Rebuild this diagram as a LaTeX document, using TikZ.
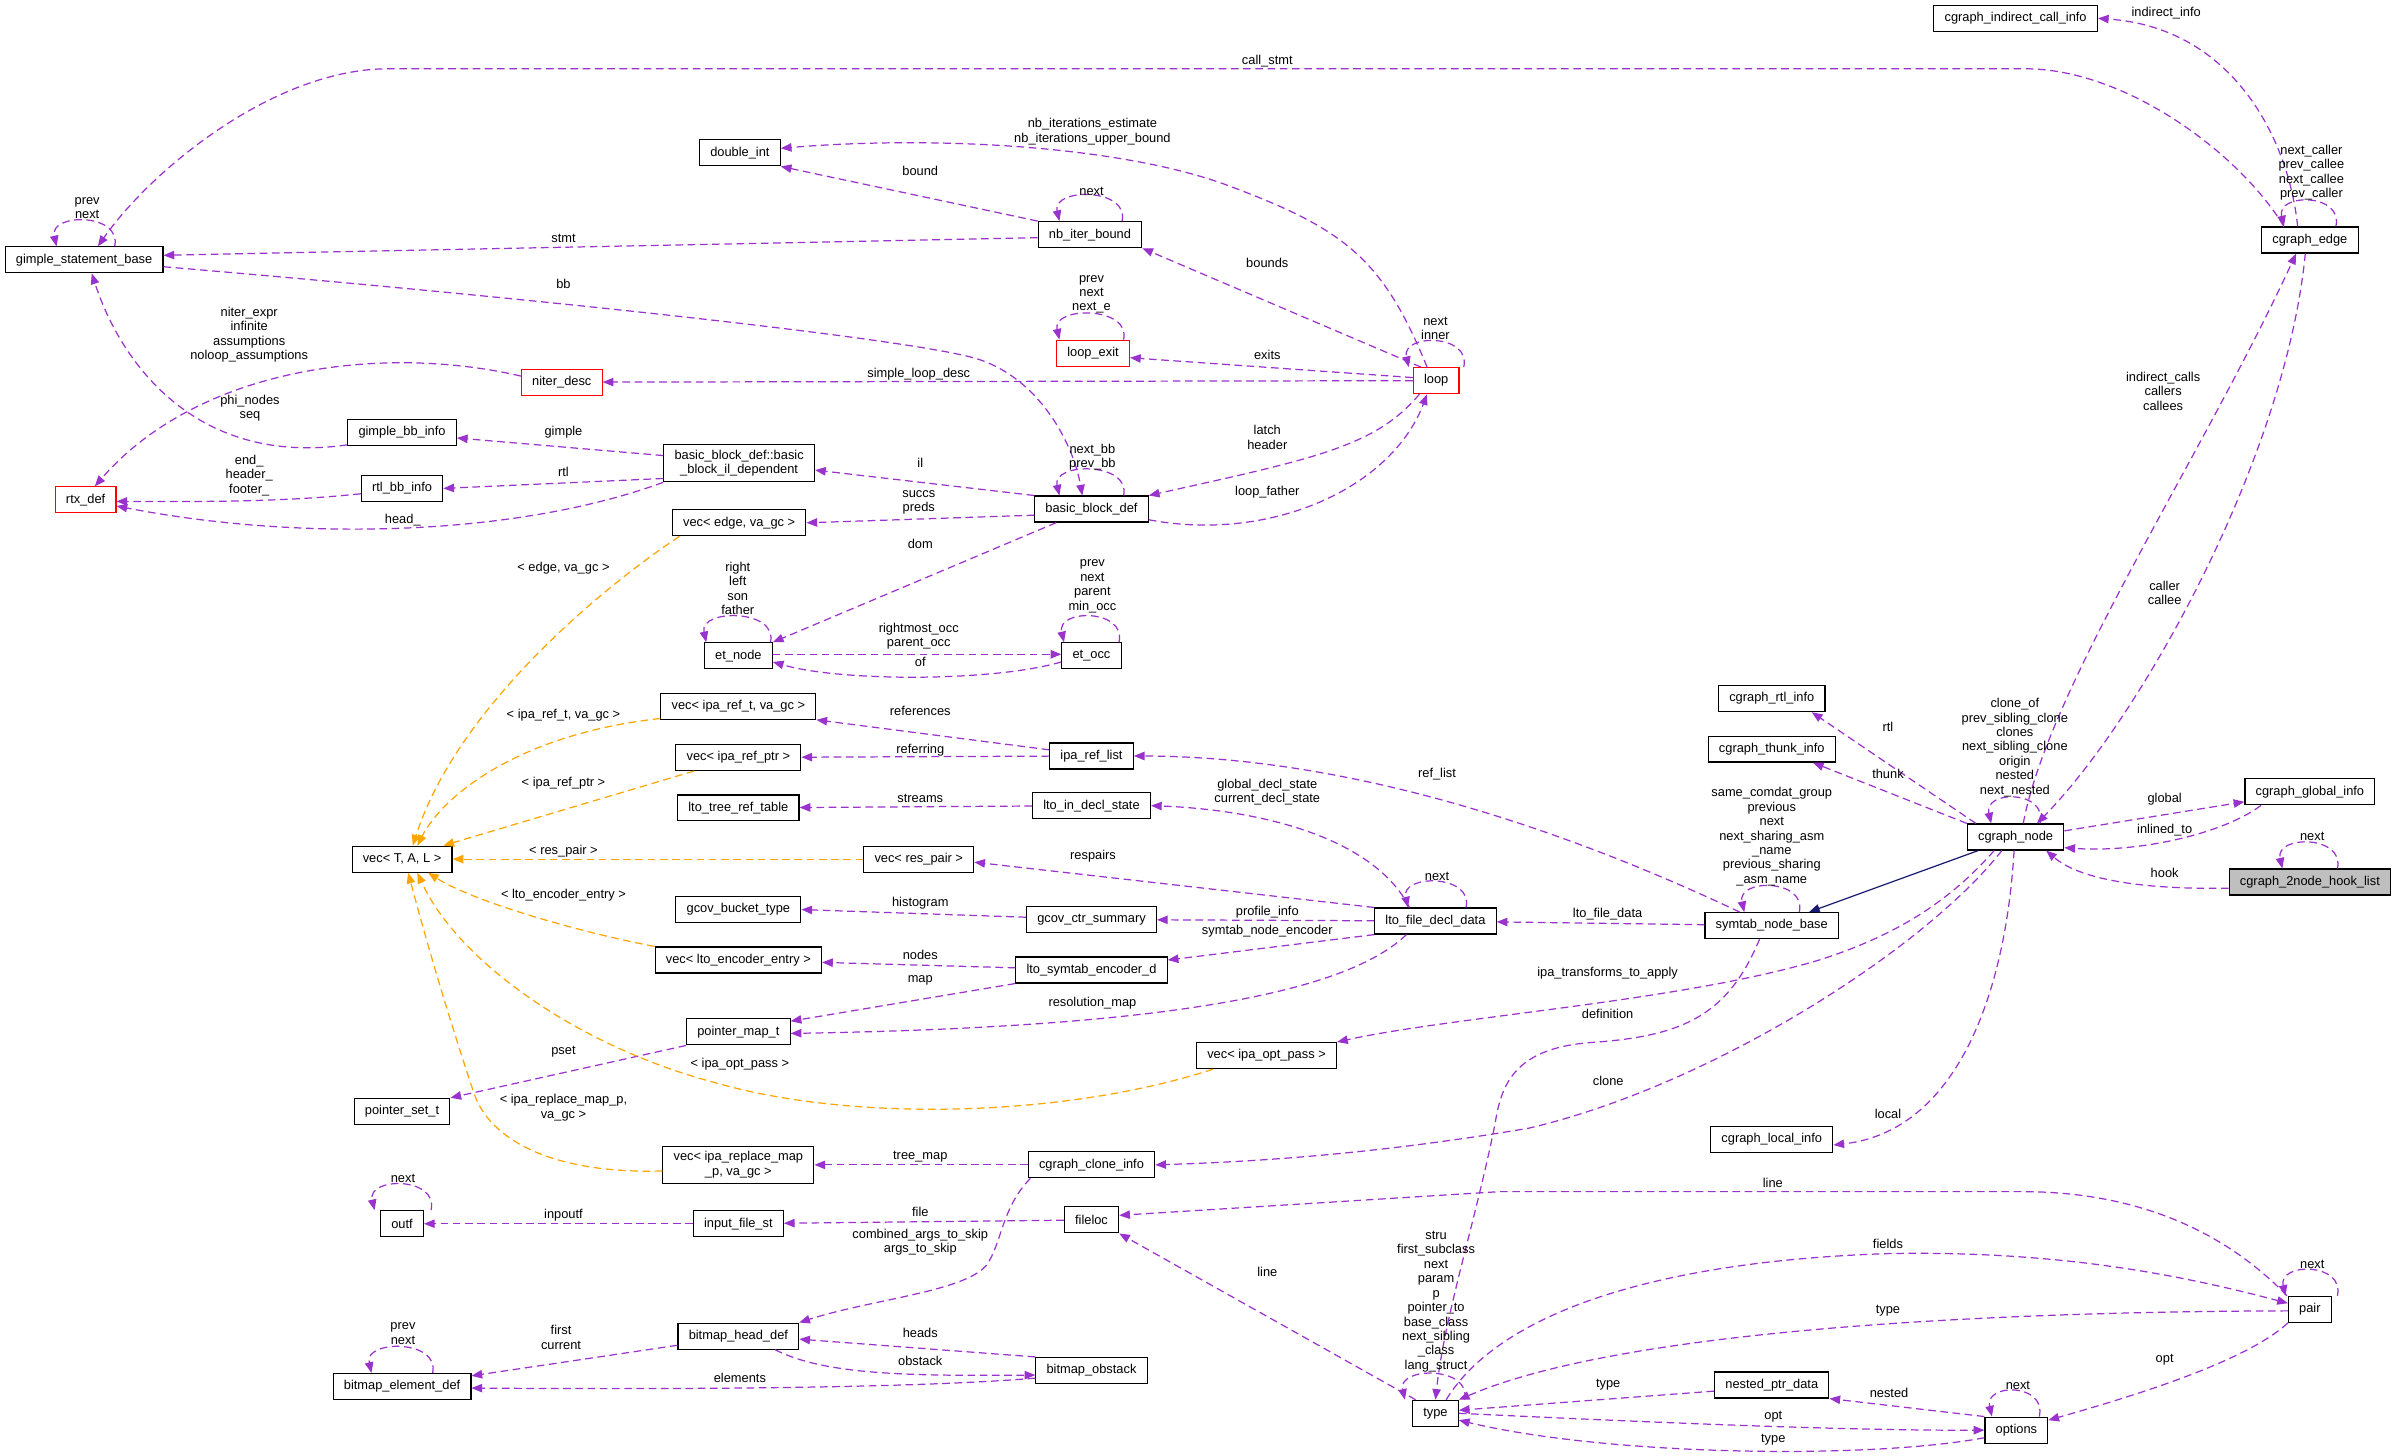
\documentclass[tikz,border=0pt]{standalone}
\usepackage{fontspec}
\setmainfont{Liberation Sans}
\usetikzlibrary{arrows.meta}
\definecolor{relcol}{HTML}{9A32CD}
\definecolor{tplcol}{HTML}{FFA500}
\definecolor{inhcol}{HTML}{191970}
\definecolor{hookfill}{HTML}{BFBFBF}
\newcommand{\dxfont}{\fontsize{8.4}{9.45}\selectfont}
\tikzset{
  cls/.style={draw=black, line width=0.75pt, fill=white, inner xsep=7pt, inner ysep=3.5pt, minimum height=17pt, align=center, font=\dxfont},
  trunc/.style={cls, draw=red},
  this/.style={cls, fill=hookfill},
  rel/.style={draw=relcol, line width=0.8pt, dash pattern=on 5pt off 3pt, -{Triangle[length=7pt,width=5.5pt]}},
  tpl/.style={rel, draw=tplcol},
  inh/.style={draw=inhcol, line width=0.8pt, -{Triangle[length=7pt,width=5.5pt]}},
  lab/.style={font=\dxfont, align=center, inner sep=0pt},
}
\begin{document}
\begin{tikzpicture}[x=1pt,y=-1pt]
    \fill[white] (0,0) rectangle (1568,952);
    \useasboundingbox (0,0) rectangle (1568,952);

    \node[cls] (cgicall) at (1318.5,12) {cgraph\_indirect\_call\_info};
    \node[cls] (dint) at (484,100) {double\_int};
    \node[cls] (gsb) at (55,170) {gimple\_statement\_base};
    \node[cls] (nbib) at (713,153.5) {nb\_iter\_bound};
    \node[cls] (cgedge) at (1511,157) {cgraph\_edge};
    \node[trunc] (lexit) at (715,231) {loop\_exit};
    \node[trunc] (niter) at (367.5,250) {niter\_desc};
    \node[trunc] (loop) at (939.5,249) {loop};
    \node[cls] (gbb) at (263,283) {gimple\_bb\_info};
    \node[cls] (bbil) at (483.5,303) {basic\_block\_def::basic\\\_block\_il\_dependent};
    \node[cls] (rtlbb) at (263,319.5) {rtl\_bb\_info};
    \node[trunc] (rtx) at (56,327) {rtx\_def};
    \node[cls] (bbd) at (714,333) {basic\_block\_def};
    \node[cls] (vedge) at (483.5,342) {vec< edge, va\_gc >};
    \node[cls] (etn) at (483,429) {et\_node};
    \node[cls] (eto) at (714,429) {et\_occ};
    \node[cls] (vreft) at (483,462) {vec< ipa\_ref\_t, va\_gc >};
    \node[cls] (vrefp) at (483,495.5) {vec< ipa\_ref\_ptr >};
    \node[cls] (irl) at (714,494.5) {ipa\_ref\_list};
    \node[cls] (ltrt) at (483,528.5) {lto\_tree\_ref\_table};
    \node[cls] (lids) at (714,527) {lto\_in\_decl\_state};
    \node[cls] (vtal) at (263,562) {vec< T, A, L >};
    \node[cls] (vres) at (601,562) {vec< res\_pair >};
    \node[cls] (gbt) at (483,595) {gcov\_bucket\_type};
    \node[cls] (gcs) at (714,601.5) {gcov\_ctr\_summary};
    \node[cls] (lfdd) at (939,602.5) {lto\_file\_decl\_data};
    \node[cls] (snb) at (1159,605.5) {symtab\_node\_base};
    \node[cls] (cgn) at (1318.5,547.5) {cgraph\_node};
    \node[cls] (cgrtl) at (1159,457) {cgraph\_rtl\_info};
    \node[cls] (cgthunk) at (1159,490) {cgraph\_thunk\_info};
    \node[cls] (cgglob) at (1511,518) {cgraph\_global\_info};
    \node[this] (hook) at (1511,577) {cgraph\_2node\_hook\_list};
    \node[cls] (venc) at (483,628) {vec< lto\_encoder\_entry >};
    \node[cls] (lsed) at (714,634.5) {lto\_symtab\_encoder\_d};
    \node[cls] (pmap) at (483,675) {pointer\_map\_t};
    \node[cls] (vopt) at (828.5,690.5) {vec< ipa\_opt\_pass >};
    \node[cls] (pset) at (263,727) {pointer\_set\_t};
    \node[cls] (vrmap) at (483,762) {vec< ipa\_replace\_map\\\_p, va\_gc >};
    \node[cls] (cgclone) at (714,762) {cgraph\_clone\_info};
    \node[cls] (cglocal) at (1159,745.5) {cgraph\_local\_info};
    \node[cls] (outf) at (263,800.5) {outf};
    \node[cls] (ifs) at (483,800.5) {input\_file\_st};
    \node[cls] (floc) at (714,798) {fileloc};
    \node[cls] (bhd) at (483,874) {bitmap\_head\_def};
    \node[cls] (bed) at (263,907) {bitmap\_element\_def};
    \node[cls] (bobs) at (714,896.5) {bitmap\_obstack};
    \node[cls] (type) at (939,924.5) {type};
    \node[cls] (pair) at (1511,856.5) {pair};
    \node[cls] (nptr) at (1159,906) {nested\_ptr\_data};
    \node[cls] (options) at (1319,935.5) {options};

    \draw[rel] ([xshift=-17pt]cgedge.north) .. controls (1465,100) and (1390,45) .. (1325,45) -- (254,45) .. controls (180,45) and (100,110) .. ([xshift=9pt]gsb.north);
    \node[lab] (lcall) at (829,40) {call\_stmt};
    \draw[rel] ([xshift=-8pt]cgedge.north) .. controls (1497,90) and (1460,18) .. (cgicall.east);
    \node[lab] (lindinfo) at (1417,8.5) {indirect\_info};
    \draw[rel] ([xshift=17pt]cgedge.north) .. controls +(5,-22) and +(-5,-22) .. ([xshift=-17pt]cgedge.north);
    \node[lab] (lcgedge) at (1512,113) {next\_caller\\prev\_callee\\next\_callee\\prev\_caller};

    \draw[rel] ([xshift=-6pt]loop.north) .. controls (905,170) and (880,150) .. (805,122) .. controls (740,97) and (620,88) .. ([yshift=3pt]dint.east);
    \node[lab] (lnbit) at (714.6,86) {nb\_iterations\_estimate\\nb\_iterations\_upper\_bound};
    \draw[rel] (nbib.north west) -- (dint.south east);
    \node[lab] (lbound) at (602,112) {bound};
    \draw[rel] ([xshift=21pt]nbib.north) .. controls +(5,-22) and +(-5,-22) .. ([xshift=-20pt]nbib.north);
    \node[lab] (lnbnext) at (714,125) {next};
    \draw[rel] ([yshift=-2pt]nbib.west) -- ([yshift=3pt]gsb.east);
    \node[lab] (lstmt) at (368.6,156) {stmt};
    \draw[rel] ([xshift=-10pt]loop.north) -- (nbib.south east);
    \node[lab] (lbounds) at (829,172) {bounds};

    \draw[rel] ([xshift=20pt]gsb.north) .. controls +(5,-22) and +(-5,-22) .. ([xshift=-18pt]gsb.north);
    \node[lab] (lgsbself) at (57,136) {prev\\next};
    \draw[rel] ([yshift=-4.5pt]gsb.east) .. controls (350,195) and (600,222) .. (640,235) .. controls (680,248) and (702,290) .. ([xshift=-6pt]bbd.north);
    \node[lab] (lbb) at (368.6,185.6) {bb};
    \draw[rel] ([yshift=-8pt]gbb.west) .. controls (130,305) and (80,240) .. ([xshift=5pt]gsb.south);
    \node[lab] (lphi) at (163.5,267) {phi\_nodes\\seq};
    \draw[rel] ([yshift=4pt]niter.west) .. controls (250,225) and (130,240) .. ([xshift=6pt]rtx.north);
    \node[lab] (lniter) at (163,219) {niter\_expr\\infinite\\assumptions\\noloop\_assumptions};

    \draw[rel] ([xshift=20pt]lexit.north) .. controls +(5,-22) and +(-5,-22) .. ([xshift=-22pt]lexit.north);
    \node[lab] (lexitself) at (714,192.5) {prev\\next\\next\_e};
    \draw[rel] ([xshift=18pt]loop.north) .. controls +(5,-22) and +(-5,-22) .. ([xshift=-18pt]loop.north);
    \node[lab] (lloopself) at (939,215) {next\\inner};
    \draw[rel] ([yshift=2pt]loop.west) -- ([yshift=-3pt]lexit.east);
    \node[lab] (lexits) at (829,232) {exits};
    \draw[rel] (loop) -- (niter);
    \node[lab] (lsld) at (601,245) {simple\_loop\_desc};

    \draw[rel] ([yshift=-7pt]bbd.east) .. controls (830,355) and (910,320) .. ([xshift=-6pt]loop.south);
    \node[lab] (lloopf) at (829,322) {loop\_father};
    \draw[rel] ([xshift=-11pt]loop.south) .. controls (900,292) and (860,300) .. (bbd.north east);
    \node[lab] (llatch) at (829,286) {latch\\header};
    \draw[rel] ([xshift=21pt]bbd.north) .. controls +(5,-22) and +(-5,-22) .. ([xshift=-21pt]bbd.north);
    \node[lab] (lbbself) at (714.6,299) {next\_bb\\prev\_bb};
    \draw[rel] (bbd.north west) -- ([yshift=-4.5pt]bbil.east);
    \node[lab] (lil) at (602,303) {il};
    \draw[rel] ([yshift=5pt]bbil.west) -- ([yshift=-3.5pt]gbb.east);
    \node[lab] (lgimple) at (368.6,283) {gimple};
    \draw[rel] ([yshift=-10pt]bbil.west) -- (rtlbb.east);
    \node[lab] (lrtl) at (368.6,309) {rtl};
    \draw[rel] ([yshift=-3.5pt]rtlbb.west) .. controls (180,329) and (120,328) .. ([yshift=-1pt]rtx.east);
    \node[lab] (lendh) at (163,311) {end\_\\header\_\\footer\_};
    \draw[rel] (bbil.south west) .. controls (340,350) and (200,355) .. ([yshift=-4pt]rtx.east);
    \node[lab] (lhead) at (263.5,340) {head\_};
    \draw[rel] ([yshift=-4pt]bbd.west) -- (vedge.east);
    \node[lab] (lsuccs) at (601,328.5) {succs\\preds};
    \draw[rel] ([xshift=-23pt]bbd.south) -- (etn.north east);
    \node[lab] (ldom) at (602,356) {dom};

    \draw[rel] ([xshift=21pt]etn.north) .. controls +(5,-22) and +(-5,-22) .. ([xshift=-21pt]etn.north);
    \node[lab] (letnself) at (482.6,385) {right\\left\\son\\father};
    \draw[rel] ([xshift=18pt]eto.north) .. controls +(5,-22) and +(-5,-22) .. ([xshift=-18pt]eto.north);
    \node[lab] (letoself) at (714.6,383.5) {prev\\next\\parent\\min\_occ};
    \draw[rel] ([yshift=1pt]etn.east) -- ([yshift=1pt]eto.west);
    \node[lab] (lrmocc) at (601,416) {rightmost\_occ\\parent\_occ};
    \draw[rel] ([yshift=-4pt]eto.west) .. controls (650,446) and (550,446) .. ([yshift=-4pt]etn.east);
    \node[lab] (lof) at (602,433) {of};

    \draw[rel] ([yshift=4pt]irl.west) -- (vreft.south east);
    \node[lab] (lrefs) at (602,465) {references};
    \draw[rel] (irl) -- (vrefp);
    \node[lab] (lreferring) at (602,491) {referring};
    \draw[rel] (lids) -- (ltrt);
    \node[lab] (lstreams) at (602,522.6) {streams};
    \draw[rel] ([xshift=-17pt]lfdd.north) .. controls (900,550) and (830,530) .. (lids.east);
    \node[lab] (ldecl) at (829,518) {global\_decl\_state\\current\_decl\_state};
    \draw[rel] ([xshift=20pt]lfdd.north) .. controls +(5,-22) and +(-5,-22) .. ([xshift=-18pt]lfdd.north);
    \node[lab] (llfddnext) at (940,573) {next};
    \draw[rel] (lfdd.north west) -- ([yshift=-2pt]vres.east);
    \node[lab] (lrespairs) at (715,560) {respairs};
    \draw[rel] (lfdd) -- (gcs);
    \node[lab] (lprof) at (829,596.7) {profile\_info};
    \draw[rel] ([yshift=1.5pt]gcs.west) -- (gbt.east);
    \node[lab] (lhist) at (602,591) {histogram};
    \draw[rel] (lfdd.south west) -- ([yshift=6.5pt]lsed.east);
    \node[lab] (lsne) at (829,609) {symtab\_node\_encoder};
    \draw[rel] (lsed) -- (venc);
    \node[lab] (lnodes) at (602,624.5) {nodes};
    \draw[rel] (lsed.south west) -- ([yshift=7pt]pmap.east);
    \node[lab] (lmap) at (602,641) {map};
    \draw[rel] ([xshift=-19pt]lfdd.south) .. controls (880,650) and (760,672) .. ([yshift=-1pt]pmap.east);
    \node[lab] (lresmap) at (714.6,656) {resolution\_map};
    \draw[rel] (pmap.south west) -- (pset.north east);
    \node[lab] (lpset) at (368.6,688) {pset};

    \draw[rel] (cgclone) -- (vrmap);
    \node[lab] (ltreemap) at (602,756.6) {tree\_map};
    \draw[rel] ([xshift=-40pt]cgclone.south) .. controls (655,790) and (655,815) .. (645,828) .. controls (630,845) and (570,850) .. (bhd.north east);
    \node[lab] (largs) at (602,812.5) {combined\_args\_to\_skip\\args\_to\_skip};
    \draw[rel] (floc) -- (ifs);
    \node[lab] (lfile) at (602,792.6) {file};
    \draw[rel] (ifs) -- (outf);
    \node[lab] (linpoutf) at (368.6,795) {inpoutf};
    \draw[rel] ([xshift=19pt]outf.north) .. controls +(5,-22) and +(-5,-22) .. ([xshift=-18pt]outf.north);
    \node[lab] (loutfnext) at (263.6,771) {next};
    \draw[rel] ([yshift=-6pt]bhd.west) -- ([yshift=7pt]bed.east);
    \node[lab] (lfirst) at (367,875) {first\\current};
    \draw[rel] ([xshift=20pt]bed.north) .. controls +(5,-22) and +(-5,-22) .. ([xshift=-20pt]bed.north);
    \node[lab] (lbedself) at (263.6,872.5) {prev\\next};
    \draw[rel] ([yshift=-5pt]bobs.west) .. controls (600,908) and (450,909) .. ([yshift=-1pt]bed.east);
    \node[lab] (lelems) at (484,901.5) {elements};
    \draw[rel] (bobs.north west) -- ([yshift=-2pt]bhd.east);
    \node[lab] (lheads) at (602,871.8) {heads};
    \draw[rel] ([xshift=24pt]bhd.south) .. controls (540,900) and (600,900) .. ([yshift=-3pt]bobs.west);
    \node[lab] (lobstack) at (602,890) {obstack};

    \draw[rel] ([xshift=-13pt]type.north) -- (floc.south east);
    \node[lab] (lline2) at (829,832) {line};
    \draw[rel] ([xshift=-8pt]snb.south) .. controls (1130,665) and (1100,678) .. (1040,682) .. controls (990,686) and (982,710) .. (978,735) .. controls (965,800) and (945,860) .. (type.north);
    \node[lab] (ldef) at (1051.6,663) {definition};
    \draw[rel] ([xshift=19pt]type.north) .. controls +(5,-22) and +(-5,-22) .. ([xshift=-20pt]type.north);
    \node[lab] (ltypeself) at (939.4,851.4) {stru\\first\_subclass\\next\\param\\p\\pointer\_to\\base\_class\\next\_sibling\\\_class\\lang\_struct};
    \draw[rel] ([xshift=7pt]type.north) .. controls (980,860) and (1080,825) .. (1236,820) .. controls (1350,818) and (1430,835) .. ([yshift=4pt]pair.west);
    \node[lab] (lfields) at (1235,814) {fields};
    \draw[rel] ([yshift=-1pt]pair.west) .. controls (1300,858) and (1060,870) .. (type.north east);
    \node[lab] (lptype) at (1235,857.6) {type};
    \draw[rel] ([xshift=-15pt]pair.north) .. controls (1450,800) and (1390,780) .. (1325,779.5) -- (981,779.5) -- ([yshift=3pt]floc.east);
    \node[lab] (lline1) at (1159.7,774) {line};
    \draw[rel] ([xshift=18pt]pair.north) .. controls +(5,-22) and +(-5,-22) .. ([xshift=-16pt]pair.north);
    \node[lab] (lpairnext) at (1512.6,827) {next};
    \draw[rel] (pair.south west) .. controls (1470,890) and (1400,912) .. ([yshift=6.5pt]options.east);
    \node[lab] (lpopt) at (1416,889.6) {opt};
    \draw[rel] ([xshift=15pt]options.north) .. controls +(5,-22) and +(-5,-22) .. ([xshift=-16pt]options.north);
    \node[lab] (loptnext) at (1320,906) {next};
    \draw[rel] (options.north west) -- (nptr.south east);
    \node[lab] (lnested) at (1235.7,911) {nested};
    \draw[rel] ([yshift=-4pt]nptr.west) -- ([yshift=2pt]type.east);
    \node[lab] (lnptype) at (1052,906) {type};
    \draw[rel] (type.east) .. controls (1050,929) and (1200,936) .. (options.west);
    \node[lab] (ltopt) at (1160,926.7) {opt};
    \draw[rel] ([yshift=-5pt]options.west) .. controls (1220,955) and (1050,952) .. ([yshift=-4.5pt]type.east);
    \node[lab] (lotype) at (1160,942) {type};

    \draw[inh] (cgn) -- (snb);
    \draw[rel] ([xshift=-3pt]cgedge.south) .. controls (1495,300) and (1400,470) .. ([xshift=14pt]cgn.north);
    \node[lab] (lcaller) at (1416,388) {caller\\callee};
    \draw[rel] ([xshift=5pt]cgn.north) .. controls (1340,450) and (1440,300) .. ([xshift=-9pt]cgedge.south);
    \node[lab] (lcalls) at (1415,256) {indirect\_calls\\callers\\callees};
    \draw[rel] ([xshift=16pt]cgn.north) .. controls +(5,-22) and +(-5,-22) .. ([xshift=-16pt]cgn.north);
    \node[lab] (lcgnself) at (1318,489) {clone\_of\\prev\_sibling\_clone\\clones\\next\_sibling\_clone\\origin\\nested\\next\_nested};
    \draw[rel] ([xshift=-26pt]cgn.north) -- ([xshift=-9pt]cgrtl.south east);
    \node[lab] (lcgrtl) at (1235,475.6) {rtl};
    \draw[rel] (cgn.north west) -- ([xshift=-15pt]cgthunk.south east);
    \node[lab] (lthunk) at (1235,506) {thunk};
    \draw[rel] ([yshift=4pt]cgn.east) -- ([yshift=-6.5pt]cgglob.west);
    \node[lab] (lglobal) at (1416,522.7) {global};
    \draw[rel] ([xshift=-32pt]cgglob.south) .. controls (1455,545) and (1400,558) .. ([yshift=-7pt]cgn.east);
    \node[lab] (linl) at (1416,543) {inlined\_to};
    \draw[rel] ([yshift=-4pt]hook.west) .. controls (1400,582) and (1360,575) .. ([xshift=20pt]cgn.south);
    \node[lab] (lhook) at (1416,571) {hook};
    \draw[rel] ([xshift=18pt]hook.north) .. controls +(5,-22) and +(-5,-22) .. ([xshift=-18pt]hook.north);
    \node[lab] (lhooknext) at (1512.5,547) {next};
    \draw[rel] ([xshift=-14pt]cgn.south) .. controls (1275,590) and (1240,612) .. (1190,628) .. controls (1100,655) and (950,665) .. (vopt.north east);
    \node[lab] (lipatr) at (1051.6,636.3) {ipa\_transforms\_to\_apply};
    \draw[rel] ([xshift=-9pt]cgn.south) .. controls (1260,620) and (1120,710) .. (1000,738) .. controls (900,755) and (820,760) .. (cgclone.east);
    \node[lab] (lclone) at (1052,707) {clone};
    \draw[rel] ([xshift=-1pt]cgn.south) .. controls (1312,650) and (1280,740) .. ([yshift=-3.5pt]cglocal.east);
    \node[lab] (llocal) at (1235,728.7) {local};

    \draw[rel] ([xshift=18pt]snb.north) .. controls +(5,-22) and +(-5,-22) .. ([xshift=-18pt]snb.north);
    \node[lab] (lsnbself) at (1159,547.3) {same\_comdat\_group\\previous\\next\\next\_sharing\_asm\\\_name\\previous\_sharing\\\_asm\_name};
    \draw[rel] (snb) -- (lfdd);
    \node[lab] (lltofd) at (1051.6,598) {lto\_file\_data};
    \draw[rel] ([xshift=-21pt]snb.north) .. controls (1050,555) and (900,495) .. (irl.east);
    \node[lab] (lreflist) at (940,506.4) {ref\_list};

    \draw[tpl] ([xshift=-39pt]vedge.south) .. controls (400,380) and (300,460) .. ([xshift=7pt]vtal.north);
    \node[lab] (ledge) at (368.6,372) {< edge, va\_gc >};
    \draw[tpl] ([yshift=-8pt]vreft.west) .. controls (340,480) and (290,520) .. ([xshift=10pt]vtal.north);
    \node[lab] (lreft) at (368.6,467.7) {< ipa\_ref\_t, va\_gc >};
    \draw[tpl] ([xshift=-29pt]vrefp.south) -- ([xshift=-6pt]vtal.north east);
    \node[lab] (lrefp) at (368.6,512.4) {< ipa\_ref\_ptr >};
    \draw[tpl] (vres) -- (vtal);
    \node[lab] (lresp) at (368.6,556.7) {< res\_pair >};
    \draw[tpl] (venc.north west) .. controls (380,610) and (310,590) .. ([xshift=17pt]vtal.south);
    \node[lab] (lenc) at (368.6,585.5) {< lto\_encoder\_entry >};
    \draw[tpl] ([xshift=-35pt]vopt.south) .. controls (700,730) and (560,735) .. (467,708) .. controls (380,685) and (300,630) .. ([xshift=10pt]vtal.south);
    \node[lab] (lopt) at (484,696) {< ipa\_opt\_pass >};
    \draw[tpl] ([yshift=-4pt]vrmap.west) .. controls (360,768) and (320,745) .. (310,715) .. controls (295,670) and (280,620) .. ([xshift=4pt]vtal.south);
    \node[lab] (lrmap) at (368.6,724.5) {< ipa\_replace\_map\_p,\\va\_gc >};
\end{tikzpicture}
\end{document}
